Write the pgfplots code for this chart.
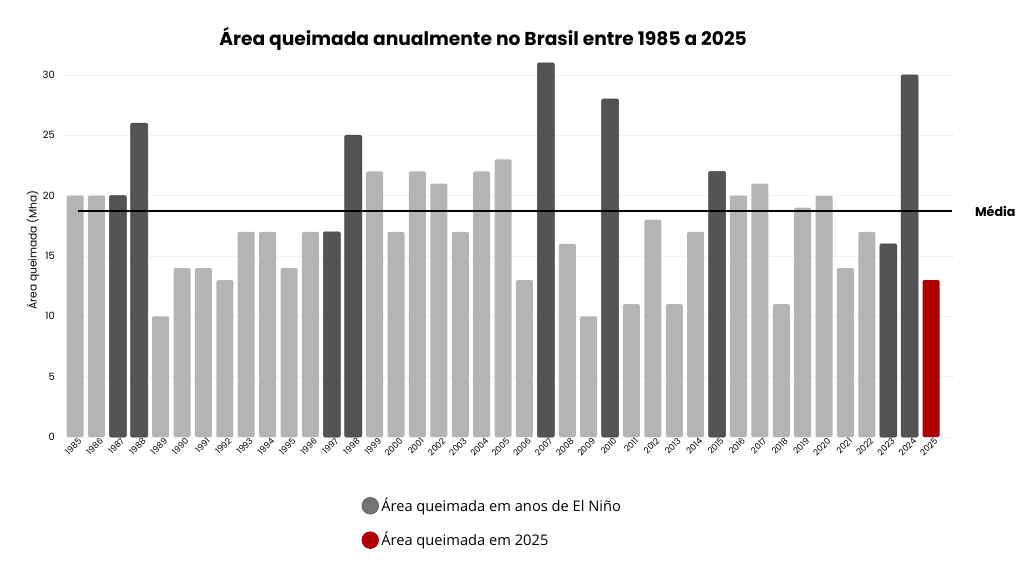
\documentclass[border=0pt]{standalone}
\usepackage{pgfplots}
\pgfplotsset{compat=1.18}
\usepackage{fontspec}
\setmainfont{Poppins}
\newfontfamily\legfont{Open Sans}
\definecolor{lightbar}{HTML}{B4B4B4}
\definecolor{darkbar}{HTML}{545454}
\definecolor{redbar}{HTML}{B00000}
\definecolor{leggray}{HTML}{737373}
\begin{document}
\begin{tikzpicture}
\useasboundingbox (0pt,0pt) rectangle (768pt,434.25pt);
\begin{axis}[
  at={(46.65pt,106.5pt)}, anchor=south west,
  scale only axis, width=669.3pt, height=280.65pt,
  xmin=-0.6, xmax=41.1, ymin=0, ymax=31,
  axis line style={draw=none},
  tick style={draw=none},
  ymajorgrids, grid style={black!5},
  ytick={0,5,10,15,20,25,30},
  xtick={0,...,40},
  xticklabels={1985,1986,1987,1988,1989,1990,1991,1992,1993,1994,1995,1996,1997,1998,1999,2000,2001,2002,2003,2004,2005,2006,2007,2008,2009,2010,2011,2012,2013,2014,2015,2016,2017,2018,2019,2020,2021,2022,2023,2024,2025},
  /pgf/number format/assume math mode=true,
  yticklabel style={font=\fontsize{7.5}{8}\selectfont, xshift=-2pt},
  xticklabel style={font=\fontsize{6.4}{7}\selectfont, rotate=45, anchor=east, yshift=-4pt, xshift=1.5pt, inner sep=0pt},
  ylabel={Área queimada (Mha)},
  ylabel style={at={(axis description cs:-0.0327,0.5)}, anchor=center, font=\fontsize{8}{9}\selectfont},
  title={\bfseries Área queimada anualmente no Brasil entre 1985 a 2025},
  title style={at={(axis description cs:0.4716,1.042)}, anchor=center, font=\fontsize{14}{16}\selectfont},
  clip=false,
  legend style={at={(axis description cs:0.331,-0.148)}, anchor=north west, draw=none, fill=none,
    font=\legfont\fontsize{11}{13}\selectfont, row sep=10pt,
    /tikz/every even column/.append style={column sep=2pt}},
  legend cell align=left,
]
\addplot[forget plot, ybar, bar width=12.75pt, bar shift=0pt, fill=lightbar, draw=none, rounded corners=1pt] coordinates {
(0,20) (1,20) (4,10) (5,14) (6,14) (7,13) (8,17) (9,17) (10,14) (11,17)
(14,22) (15,17) (16,22) (17,21) (18,17) (19,22) (20,23) (21,13) (23,16) (24,10)
(26,11) (27,18) (28,11) (29,17) (31,20) (32,21) (33,11) (34,19) (35,20) (36,14) (37,17)};
\addplot[forget plot, ybar, bar width=12.75pt, bar shift=0pt, fill=darkbar, draw=darkbar!80!black, rounded corners=1pt] coordinates {
(2,20) (3,26) (12,17) (13,25) (22,31) (25,28) (30,22) (38,16) (39,30)};
\addplot[forget plot, ybar, bar width=12.75pt, bar shift=0pt, fill=redbar, draw=none, rounded corners=1pt] coordinates {(40,13)};
\addplot[forget plot, sharp plot, black, line width=1.6pt] coordinates {(0.14,18.7) (41.0,18.7)};
\node[font=\bfseries\fontsize{9.5}{11}\selectfont] at (axis cs:43,18.7) {Média};
\addlegendimage{only marks, mark=*, mark size=6.3pt, draw=leggray!80!black, fill=leggray}
\addlegendentry{Área queimada em anos de El Niño}
\addlegendimage{only marks, mark=*, mark size=6.3pt, draw=redbar, fill=redbar}
\addlegendentry{Área queimada em 2025}
\end{axis}
\end{tikzpicture}
\end{document}
